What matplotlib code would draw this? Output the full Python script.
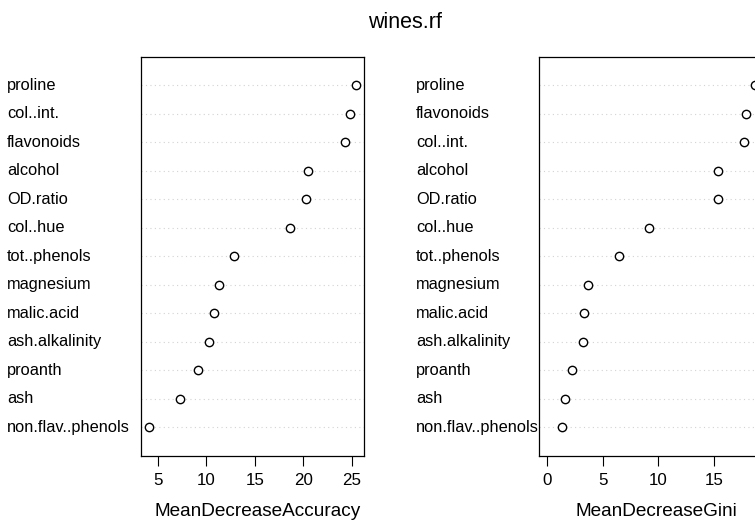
import numpy as np
import matplotlib
matplotlib.use('Agg')
import matplotlib.pyplot as plt

plt.rcParams['font.family'] = ['Liberation Sans', 'DejaVu Sans']

# ordre du bas vers le haut (comme dotchart)
acc_vars = ['non.flav..phenols', 'ash', 'proanth', 'ash.alkalinity', 'malic.acid',
            'magnesium', 'tot..phenols', 'col..hue', 'OD.ratio', 'alcohol',
            'flavonoids', 'col..int.', 'proline']
acc_vals = [4.1, 7.27, 9.09, 10.26, 10.77, 11.26, 12.87, 18.64, 20.3, 20.5,
            24.28, 24.86, 25.44]

gini_vars = ['non.flav..phenols', 'ash', 'proanth', 'ash.alkalinity', 'malic.acid',
             'magnesium', 'tot..phenols', 'col..hue', 'OD.ratio', 'alcohol',
             'col..int.', 'flavonoids', 'proline']
gini_vals = [1.35, 1.56, 2.22, 3.24, 3.27, 3.69, 6.42, 9.13, 15.35, 15.4,
             17.7, 17.9, 18.65]

W, H = 755, 521
fig = plt.figure(figsize=(W / 100, H / 100), dpi=100)


def dotplot(left, right, names, vals, xmin, ticks, xlab, label_x):
    top, bottom = 57, 455.5
    ax = fig.add_axes([left / W, 1 - bottom / H, (right - left) / W, (bottom - top) / H])
    n = len(vals)
    y = np.arange(1, n + 1)
    lo = xmin
    hi = max(vals)
    pad = 0.04 * (hi - lo)
    ax.set_xlim(lo - pad, hi + pad)
    ax.set_ylim(0, n + 1)
    for yi in y:
        ax.axhline(yi, color='#d3d3d3', lw=0.8, ls=(0, (1, 3)), zorder=1)
    ax.plot(vals, y, 'o', mfc='white', mec='black', ms=6, mew=1.0, zorder=3, clip_on=False)
    ax.set_yticks([])
    ax.set_xticks(ticks)
    ax.set_xticklabels([str(t) for t in ticks])
    ax.tick_params(axis='x', direction='out', length=7.2, width=0.8, labelsize=12.2, pad=5.5)
    for s in ax.spines.values():
        s.set_linewidth(0.9)
    ax.set_xlabel(xlab, fontsize=13.7, labelpad=9)
    ax.xaxis.set_label_coords(0.5 + 5 / (right - left), -0.118)
    for yi, nm in zip(y, names):
        fig.text(label_x / W, 1 - (455.5 - (455.5 - 57) * yi / (n + 1)) / H, nm,
                 ha='left', va='center', fontsize=11.8)
    return ax


dotplot(141, 364.3, acc_vars, acc_vals, min(acc_vals), [5, 10, 15, 20, 25],
        'MeanDecreaseAccuracy', 7)
dotplot(539, 539 + (364.3 - 141) * 1.0 + 0.5, gini_vars, gini_vals, 0, [0, 5, 10, 15],
        'MeanDecreaseGini', 416)

fig.text(405 / W, 1 - 22 / H, 'wines.rf', ha='center', va='center', fontsize=15.5)

fig.savefig('out.png', dpi=100)
